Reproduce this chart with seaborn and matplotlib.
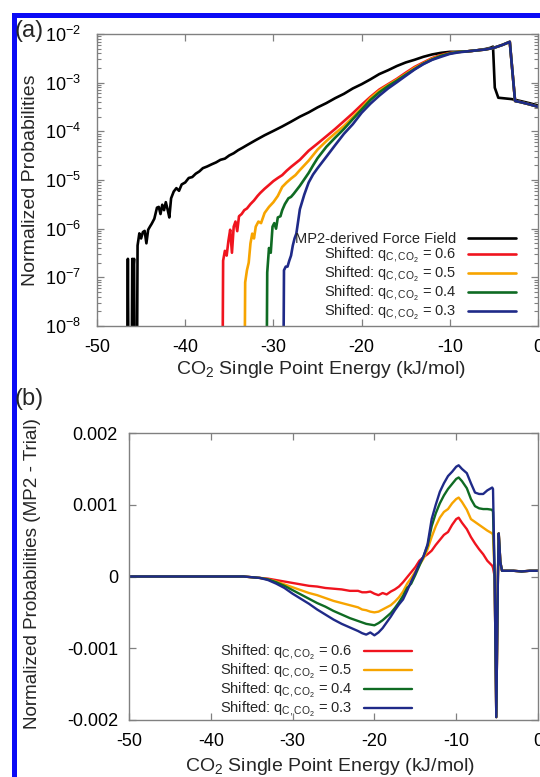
import matplotlib
matplotlib.use("Agg")
import matplotlib.pyplot as plt
import matplotlib.ticker as mticker
from matplotlib.patches import Rectangle
import numpy as np
import seaborn as sns

sns.set_style("ticks")
plt.rcParams.update({
    "font.family": ["Liberation Sans", "DejaVu Sans"],
    "mathtext.fontset": "custom",
    "mathtext.rm": "Liberation Sans",
    "mathtext.it": "Liberation Sans:italic",
    "mathtext.bf": "Liberation Sans:bold",
    "axes.unicode_minus": False,
})

# ---------------- (a) energy distributions ----------------
mp2_E = [-46.6, -46.5, -46.4, -46.1, -46.0, -45.9, -45.8, -45.7, -45.5, -45.4,
         -45.2, -45.0, -44.8, -44.6, -44.4, -44.2, -44.0, -43.8, -43.5, -43.2,
         -43.0, -42.8, -42.6, -42.4, -42.2, -42.0, -41.8, -41.6, -41.3, -41.0,
         -40.7, -40.4, -40.0, -39.6, -39.2, -38.8, -38.4, -38.0, -37.5, -37.0,
         -36.5, -36.0, -35.5, -35.0, -34.5, -34.0, -33.5, -33.0, -32.0, -31.0,
         -30.0, -29.0, -28.0, -27.0, -26.0, -25.0, -24.0, -23.0, -22.0, -21.0,
         -20.0, -19.0, -18.0, -17.0, -16.0, -15.0, -14.0, -13.0, -12.0, -11.0,
         -10.0, -9.0, -8.0, -7.0, -6.0, -5.4, -5.1, -4.9, -4.5, -4.0,
         -3.0, -2.0, -1.0, 0.0]
mp2_P = [1e-10, 2.4e-7, 1e-10, 1e-10, 2.4e-7, 1.3e-7, 2.4e-7, 1e-10, 1e-10, 4.5e-7,
         8.0e-7, 6.3e-7, 8.5e-7, 9.0e-7, 5.0e-7, 9.5e-7, 1.1e-6, 1.26e-6, 1.6e-6, 2.7e-6,
         2.8e-6, 2.0e-6, 3.1e-6, 2.4e-6, 3.5e-6, 2.5e-6, 1.7e-6, 4.2e-6, 5.8e-6, 6.8e-6,
         6.0e-6, 8.1e-6, 8.9e-6, 1.1e-5, 1.15e-5, 1.35e-5, 1.5e-5, 1.75e-5, 1.9e-5, 2.1e-5,
         2.3e-5, 2.6e-5, 2.75e-5, 3.2e-5, 3.55e-5, 4.1e-5, 4.6e-5, 5.2e-5, 6.6e-5, 8.3e-5,
         1.02e-4, 1.26e-4, 1.58e-4, 2.0e-4, 2.45e-4, 3.1e-4, 3.8e-4, 4.8e-4, 5.9e-4, 7.6e-4,
         9.3e-4, 1.17e-3, 1.5e-3, 1.8e-3, 2.2e-3, 2.6e-3, 2.95e-3, 3.4e-3, 3.8e-3, 4.1e-3,
         4.3e-3, 4.3e-3, 4.4e-3, 4.6e-3, 4.9e-3, 5.2e-3, 5.5e-3, 7.9e-4, 4.9e-4, 4.8e-4,
         4.6e-4, 4.2e-4, 3.8e-4, 3.4e-4]

# high-energy end shared by the shifted-charge runs
shift_tail_E = [-8.0, -7.0, -6.0, -5.0, -4.0, -3.2, -2.6, -2.0, -1.0, 0.0]
shift_tail_P = [4.4e-3, 4.6e-3, 4.8e-3, 5.2e-3, 6.0e-3, 6.9e-3, 4.2e-4, 4.0e-4, 3.6e-4, 3.2e-4]

q06_E = [-35.8, -35.7, -35.5, -35.3, -35.1, -34.9, -34.7, -34.5, -34.3, -34.1,
         -33.9, -33.6, -33.3, -33.0, -32.6, -32.2, -31.8, -31.5, -31.0, -30.5,
         -30.0, -29.5, -29.0, -28.5, -28.0, -27.0, -26.0, -25.0, -24.0, -23.0,
         -22.0, -21.0, -20.0, -19.0, -18.0, -17.0, -16.0, -15.0, -14.0, -13.0,
         -12.0, -11.0, -10.0, -9.0]
q06_P = [1e-10, 2.2e-7, 3.5e-7, 2.8e-7, 5.6e-7, 9.5e-7, 3.2e-7, 1.1e-6, 1.4e-6, 8.9e-7,
         1.8e-6, 2.0e-6, 2.4e-6, 2.6e-6, 3.2e-6, 3.8e-6, 4.7e-6, 5.4e-6, 6.6e-6, 7.9e-6,
         9.5e-6, 1.1e-5, 1.26e-5, 1.55e-5, 1.86e-5, 2.6e-5, 4.0e-5, 5.6e-5, 7.9e-5, 1.12e-4,
         1.62e-4, 2.35e-4, 3.5e-4, 5.1e-4, 7.2e-4, 9.3e-4, 1.2e-3, 1.6e-3, 2.1e-3, 2.6e-3,
         3.2e-3, 3.7e-3, 4.1e-3, 4.3e-3]

q05_E = [-33.3, -33.2, -33.0, -32.8, -32.6, -32.4, -32.2, -32.0, -31.7, -31.4,
         -31.0, -30.5, -30.0, -29.5, -29.0, -28.5, -28.0, -27.5, -27.0, -26.0,
         -25.0, -24.0, -23.0, -22.0, -21.0, -20.0, -19.0, -18.0, -17.0, -16.0,
         -15.0, -14.0, -13.0, -12.0, -11.0, -10.0, -9.0]
q05_P = [1e-10, 7.9e-8, 1.4e-7, 2.0e-7, 5.0e-7, 7.9e-7, 6.3e-7, 1.1e-6, 1.4e-6, 1.3e-6,
         2.1e-6, 2.8e-6, 3.5e-6, 4.7e-6, 7.2e-6, 8.9e-6, 1.07e-5, 1.26e-5, 1.6e-5, 2.5e-5,
         4.2e-5, 6.3e-5, 9.1e-5, 1.29e-4, 1.95e-4, 3.0e-4, 4.8e-4, 6.8e-4, 8.9e-4, 1.15e-3,
         1.5e-3, 2.0e-3, 2.5e-3, 3.1e-3, 3.6e-3, 4.0e-3, 4.3e-3]

q04_E = [-30.8, -30.7, -30.5, -30.3, -30.1, -29.9, -29.7, -29.5, -29.2, -29.0,
         -28.7, -28.3, -28.0, -27.7, -27.0, -26.0, -25.5, -25.0, -24.0, -23.0,
         -22.0, -21.0, -20.0, -19.0, -18.0, -17.0, -16.0, -15.0, -14.0, -13.0,
         -12.0, -11.0, -10.0, -9.0]
q04_P = [1e-10, 1.26e-7, 4.0e-7, 3.2e-7, 1.1e-6, 1.3e-6, 1.0e-6, 1.7e-6, 1.8e-6, 2.4e-6,
         3.2e-6, 4.2e-6, 4.5e-6, 5.2e-6, 7.6e-6, 1.4e-5, 2.0e-5, 2.8e-5, 4.8e-5, 7.4e-5,
         1.12e-4, 1.78e-4, 2.8e-4, 4.4e-4, 6.3e-4, 8.5e-4, 1.1e-3, 1.45e-3, 1.9e-3, 2.45e-3,
         3.0e-3, 3.55e-3, 4.0e-3, 4.3e-3]

q03_E = [-28.9, -28.8, -28.6, -28.4, -28.2, -28.0, -27.8, -27.6, -27.4, -27.2,
         -27.0, -26.8, -26.5, -26.2, -26.0, -25.5, -25.0, -24.0, -23.0, -22.0,
         -21.0, -20.0, -19.0, -18.0, -17.0, -16.0, -15.0, -14.0, -13.0, -12.0,
         -11.0, -10.0, -9.0]
q03_P = [1e-10, 1.4e-7, 1.66e-7, 1.66e-7, 2.2e-7, 2.8e-7, 4.5e-7, 6.3e-7, 7.9e-7, 1.4e-6,
         2.5e-6, 3.3e-6, 5.0e-6, 7.1e-6, 8.9e-6, 1.3e-5, 1.74e-5, 3.0e-5, 5.2e-5, 8.9e-5,
         1.4e-4, 2.4e-4, 3.7e-4, 5.4e-4, 7.6e-4, 1.02e-3, 1.38e-3, 1.86e-3, 2.4e-3, 2.95e-3,
         3.4e-3, 3.9e-3, 4.2e-3]

# ---------------- (b) MP2 minus shifted-charge distributions ----------------
diff_E = [-50, -40, -36, -35, -34, -33, -32, -31, -30, -29,
          -28, -27, -26, -25, -24, -23, -22, -21.5, -21, -20.5,
          -20, -19.5, -19, -18.5, -18, -17.5, -17, -16.5, -16, -15.5,
          -15, -14.5, -14, -13.5, -13, -12.5, -12, -11.5, -11, -10.5,
          -10, -9.7, -9.3, -8.7, -8.2, -7.7, -7.2, -6.7, -6.2, -5.6,
          -5.5, -5.3, -5.1, -4.9, -4.8, -4.6, -4.4, -3, -2, -1, 0]
diff_q06 = [0, 0, 0, -1e-5, -2e-5, -3e-5, -5e-5, -7e-5, -9e-5, -1.1e-4,
            -1.3e-4, -1.4e-4, -1.6e-4, -1.7e-4, -1.8e-4, -2.0e-4, -2.0e-4, -2.2e-4, -2.2e-4, -2.1e-4,
            -2.4e-4, -2.6e-4, -2.3e-4, -2.5e-4, -2.1e-4, -1.8e-4, -1.4e-4, -8e-5, -1e-5, 6e-5,
            1.3e-4, 2.2e-4, 2.7e-4, 3.1e-4, 3.6e-4, 4.4e-4, 5.1e-4, 5.8e-4, 6.2e-4, 7.2e-4,
            8.0e-4, 8.2e-4, 7.5e-4, 6.6e-4, 5.5e-4, 4.6e-4, 3.8e-4, 3.1e-4, 2.2e-4, 1.5e-4,
            1.2e-4, 0, -1.96e-3, 0, 6e-4, 2e-4, 8e-5, 8e-5, 7e-5, 8e-5, 8e-5]
diff_q05 = [0, 0, 0, -1e-5, -2e-5, -4e-5, -7e-5, -1.1e-4, -1.5e-4, -1.9e-4,
            -2.3e-4, -2.6e-4, -3.0e-4, -3.4e-4, -3.7e-4, -4.0e-4, -4.3e-4, -4.6e-4, -4.7e-4, -4.9e-4,
            -5.0e-4, -4.9e-4, -4.6e-4, -4.3e-4, -4.0e-4, -3.5e-4, -2.9e-4, -2.1e-4, -1.0e-4, -2e-5,
            7e-5, 1.6e-4, 2.5e-4, 3.8e-4, 5.5e-4, 7.0e-4, 8.2e-4, 9.0e-4, 9.4e-4, 1.02e-3,
            1.08e-3, 1.10e-3, 1.04e-3, 9.3e-4, 8.0e-4, 7.6e-4, 7.2e-4, 6.8e-4, 6.4e-4, 6.0e-4,
            5.8e-4, 0, -1.96e-3, 0, 6e-4, 2e-4, 8e-5, 8e-5, 7e-5, 8e-5, 8e-5]
diff_q04 = [0, 0, 0, -1e-5, -2e-5, -4e-5, -8e-5, -1.3e-4, -1.9e-4, -2.5e-4,
            -3.1e-4, -3.7e-4, -4.2e-4, -4.8e-4, -5.3e-4, -5.8e-4, -6.2e-4, -6.4e-4, -6.6e-4, -6.7e-4,
            -6.8e-4, -6.5e-4, -6.1e-4, -5.6e-4, -5.1e-4, -4.4e-4, -3.6e-4, -2.7e-4, -1.6e-4, -1.0e-4,
            2e-5, 1.5e-4, 2.8e-4, 4.3e-4, 7.0e-4, 8.8e-4, 1.02e-3, 1.13e-3, 1.22e-3, 1.29e-3,
            1.36e-3, 1.38e-3, 1.33e-3, 1.23e-3, 1.08e-3, 9.8e-4, 9.5e-4, 9.4e-4, 9.4e-4, 9.3e-4,
            9.0e-4, 0, -1.96e-3, 0, 6e-4, 2e-4, 8e-5, 8e-5, 7e-5, 8e-5, 8e-5]
diff_q03 = [0, 0, 0, -1e-5, -2e-5, -5e-5, -1.0e-4, -1.6e-4, -2.4e-4, -3.1e-4,
            -3.8e-4, -4.6e-4, -5.3e-4, -6.0e-4, -6.6e-4, -7.1e-4, -7.6e-4, -7.9e-4, -8.1e-4, -7.8e-4,
            -8.2e-4, -7.8e-4, -7.2e-4, -6.4e-4, -5.6e-4, -4.7e-4, -3.9e-4, -3.2e-4, -2.0e-4, -7e-5,
            5e-5, 1.8e-4, 2.8e-4, 4.5e-4, 8.0e-4, 1.00e-3, 1.18e-3, 1.30e-3, 1.40e-3, 1.46e-3,
            1.53e-3, 1.55e-3, 1.50e-3, 1.44e-3, 1.30e-3, 1.17e-3, 1.15e-3, 1.15e-3, 1.20e-3, 1.24e-3,
            1.22e-3, 0, -1.96e-3, 0, 6e-4, 2e-4, 8e-5, 8e-5, 7e-5, 8e-5, 8e-5]

q_labels = ["0.6", "0.5", "0.4", "0.3"]
colors = {"mp2": "#000000", "0.6": "#f0141e", "0.5": "#f7a400",
          "0.4": "#0f6b23", "0.3": "#1f2a88"}

def shifted_label(q):
    return r"Shifted: $\mathregular{q_{C,CO_2}}$ = " + q

TICK_FS = 13
LABEL_FS = 14
LEG_FS = 10.5
SPINE_C = "#808080"

fig = plt.figure(figsize=(5.4, 7.77), dpi=100)
ax_a = fig.add_axes([97 / 540, 1 - 326 / 777, 441 / 540, 292 / 777])
ax_b = fig.add_axes([129 / 540, 1 - 720 / 777, 409 / 540, 287 / 777])

# panel (a)
sns.lineplot(x=mp2_E, y=mp2_P, ax=ax_a, color=colors["mp2"], lw=1.9,
             sort=False, estimator=None, label="MP2-derived Force Field")
series_a = [(q06_E, q06_P), (q05_E, q05_P), (q04_E, q04_P), (q03_E, q03_P)]
for q, (E, P) in zip(q_labels, series_a):
    sns.lineplot(x=list(E) + shift_tail_E, y=list(P) + shift_tail_P, ax=ax_a,
                 color=colors[q], lw=1.9, sort=False, estimator=None,
                 label=shifted_label(q))
ax_a.set_yscale("log")
ax_a.set_xlim(-50, 0)
ax_a.set_ylim(1e-8, 1e-2)
ax_a.set_xticks(np.arange(-50, 1, 10))
ax_a.set_yticks([1e-8, 1e-7, 1e-6, 1e-5, 1e-4, 1e-3, 1e-2])
ax_a.yaxis.set_minor_locator(mticker.LogLocator(base=10, subs=np.arange(2, 10), numticks=20))
ax_a.yaxis.set_minor_formatter(mticker.NullFormatter())

# panel (b)
series_b = [diff_q06, diff_q05, diff_q04, diff_q03]
for q, D in zip(q_labels, series_b):
    sns.lineplot(x=diff_E, y=D, ax=ax_b, color=colors[q], lw=1.7,
                 sort=False, estimator=None, label=shifted_label(q))
ax_b.set_xlim(-50, 0)
ax_b.set_ylim(-0.002, 0.002)
ax_b.set_xticks(np.arange(-50, 1, 10))
ax_b.set_yticks([-0.002, -0.001, 0, 0.001, 0.002])
ax_b.yaxis.set_major_formatter(mticker.FormatStrFormatter("%g"))

for ax, ypad in ((ax_a, 11.5), (ax_b, 8)):
    for s in ax.spines.values():
        s.set_color(SPINE_C)
        s.set_linewidth(1.0)
    ax.tick_params(which="both", direction="in", top=True, right=True,
                   color=SPINE_C, labelcolor="black", labelsize=TICK_FS)
    ax.tick_params(which="major", length=5, width=0.9)
    ax.tick_params(which="minor", length=3, width=0.8)
    ax.tick_params(axis="x", pad=9)
    ax.tick_params(axis="y", pad=ypad)
    ax.set_xlabel(r"CO$_2$ Single Point Energy (kJ/mol)", fontsize=LABEL_FS)

ax_a.set_ylabel("Normalized Probabilities", fontsize=LABEL_FS, va="center")
ax_a.yaxis.set_label_coords(-0.150, 0.5)
ax_a.xaxis.set_label_coords(0.508, -0.150)
ax_b.set_ylabel("Normalized Probabilities (MP2 - Trial)", fontsize=13.6, va="center")
ax_b.yaxis.set_label_coords(-0.237, 0.51)
ax_b.xaxis.set_label_coords(0.49, -0.163)
ax_a.xaxis.label.set_va("center")
ax_b.xaxis.label.set_va("center")

leg_kw = dict(frameon=False, markerfirst=False, handlelength=3.3, handletextpad=0.8,
              labelspacing=-0.01, borderpad=0, borderaxespad=0, fontsize=LEG_FS,
              loc="upper right", bbox_transform=fig.transFigure)
ax_a.legend(bbox_to_anchor=(516 / 540, 1 - 232 / 777), **leg_kw)
ax_b.legend(bbox_to_anchor=(412 / 540, 1 - 643 / 777), **leg_kw)

fig.text(14 / 540, 1 - 31 / 777, "(a)", fontsize=17, ha="left", va="center")
fig.text(15 / 540, 1 - 399 / 777, "(b)", fontsize=17, ha="left", va="center")

# blue frame along the top and left edges
fig.patches.append(Rectangle((13.5 / 540, -0.1), 1.2, 1.1 - 15.5 / 777, fill=False,
                             lw=3.6, ec="#0b0bf5", transform=fig.transFigure,
                             clip_on=False))

fig.savefig("out.png", dpi=100)
